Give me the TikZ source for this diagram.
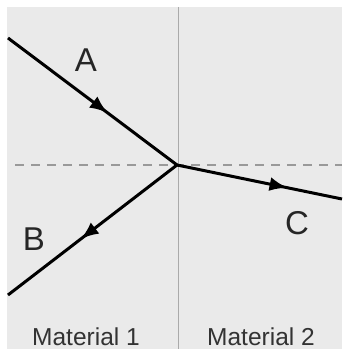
\documentclass[tikz,border=0pt]{standalone}
\usepackage{fontspec}
\setmainfont{Liberation Sans}
\usepackage{xcolor}
\usetikzlibrary{arrows.meta, decorations.markings}
\definecolor{panel}{RGB}{234,234,234}
\definecolor{divider}{RGB}{170,170,170}

\begin{document}
\begin{tikzpicture}[
  x=1pt, y=-1pt,
  ray/.style={line width=3pt, black, postaction={decorate},
              decoration={markings, mark=at position #1 with {\arrow{Latex[length=18pt, width=14pt]}}}},
  letter/.style={font=\fontsize{33}{38}\selectfont, text=black!85},
  material/.style={font=\fontsize{24.5}{30}\selectfont, text=black!80}
]
\useasboundingbox (0,0) rectangle (342,358);
\fill[panel] (7,7) rectangle (342,349);

% boundary and normal
\coordinate (top) at (178,7);
\coordinate (bottom) at (178,349);
\coordinate (nleft) at (15,165);
\coordinate (nright) at (342,165);
\draw[divider, line width=1pt] (top) -- (bottom);
\draw[gray!80, line width=1.3pt, dash pattern=on 9pt off 7pt] (nleft) -- (nright);

% rays
\coordinate (o) at (177,165);
\coordinate (astart) at (8,38);
\coordinate (bend) at (8,295);
\coordinate (cend) at (342,199);
\draw[ray=0.59] (astart) -- (o);
\draw[ray=0.57] (o) -- (bend);
\draw[ray=0.67] (o) -- (cend);

\node[letter] (A) at (86,60) {A};
\node[letter] (B) at (34,239) {B};
\node[letter] (C) at (297,223) {C};

\node[material] (m1) at (86,337) {Material 1};
\node[material] (m2) at (261,337) {Material 2};
\end{tikzpicture}
\end{document}
